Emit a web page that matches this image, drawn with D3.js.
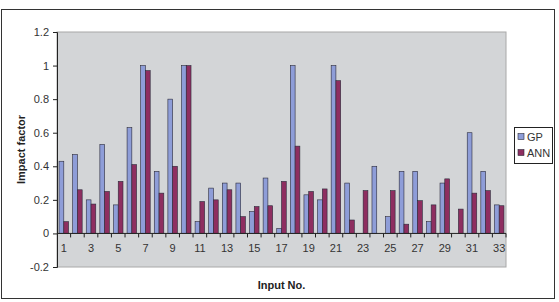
<!DOCTYPE html>
<html>
<head>
	<meta charset="utf-8">
	<title>Impact factor</title>
	<style>
		body { margin: 0; background: #fff; }
		svg { display: block; font-family: "Liberation Sans", Arial, sans-serif; }
		.axis text { font-size: 11px; fill: #333; }
		.title { font-size: 11px; font-weight: bold; fill: #222; }
	</style>
</head>
<body>
	<div id="chart"></div>
	<script src="https://cdn.jsdelivr.net/npm/d3@7"></script>
	<script>
		// input numbers 1..33
		var inputs = d3.range(1, 34);
		var seriesNames = ['GP', 'ANN'];
		var gp = [0.43, 0.47, 0.20, 0.53, 0.17, 0.63, 1.00, 0.37, 0.80, 1.00,
			0.07, 0.27, 0.30, 0.30, 0.13, 0.33, 0.03, 1.00, 0.23, 0.20,
			1.00, 0.30, 0, 0.40, 0.10, 0.37, 0.37, 0.07, 0.30, 0,
			0.60, 0.37, 0.17];
		var ann = [0.07, 0.26, 0.175, 0.25, 0.31, 0.41, 0.97, 0.24, 0.40, 1.00,
			0.19, 0.20, 0.26, 0.10, 0.16, 0.165, 0.31, 0.52, 0.25, 0.265,
			0.91, 0.08, 0.255, 0, 0.255, 0.055, 0.195, 0.17, 0.325, 0.145,
			0.24, 0.255, 0.165];
		var yTicks = [-0.2, 0, 0.2, 0.4, 0.6, 0.8, 1, 1.2];
		var xTickLabels = inputs.filter(function (d) { return d % 2 === 1; });

		var colors = { GP: '#8e9dd8', ANN: '#8e2e60' };
		var W = 559, H = 302;
		var plot = { left: 57, right: 506, top: 32, bottom: 267 };

		var svg = d3.select('#chart').append('svg')
			.attr('width', W).attr('height', H);

		// outer frame
		svg.append('rect')
			.attr('x', 1.5).attr('y', 9.5)
			.attr('width', 553).attr('height', 289)
			.attr('fill', '#fff').attr('stroke', '#333').attr('stroke-width', 1);

		var x = d3.scaleBand()
			.domain(inputs)
			.range([plot.left, plot.right])
			.paddingInner(0.3).paddingOuter(0.15);
		var xOuter = d3.scaleBand().domain(inputs).range([plot.left, plot.right]);
		var xs = d3.scaleBand().domain(seriesNames).range([0, x.bandwidth()]);

		var y = d3.scaleLinear().domain([-0.2, 1.2]).range([plot.bottom, plot.top]);

		// plot area
		svg.append('rect')
			.attr('x', plot.left).attr('y', plot.top)
			.attr('width', plot.right - plot.left).attr('height', plot.bottom - plot.top)
			.attr('fill', '#d3d5d7').attr('stroke', '#a8a8a8');

		var rows = inputs.map(function (d, i) { return { input: d, GP: gp[i], ANN: ann[i] }; });

		var groups = svg.append('g').selectAll('g')
			.data(rows).enter().append('g')
			.attr('transform', function (d) { return 'translate(' + x(d.input) + ',0)'; });

		groups.selectAll('rect')
			.data(function (d) { return seriesNames.map(function (k) { return { key: k, v: d[k] }; }); })
			.enter().filter(function (d) { return d.v > 0; })
			.append('rect')
			.attr('x', function (d) { return xs(d.key); })
			.attr('y', function (d) { return y(d.v); })
			.attr('width', xs.bandwidth())
			.attr('height', function (d) { return y(0) - y(d.v); })
			.attr('fill', function (d) { return colors[d.key]; })
			.attr('stroke', '#2a2a3a').attr('stroke-width', 0.6);

		// y axis
		var yAxis = svg.append('g').attr('class', 'axis')
			.attr('transform', 'translate(' + plot.left + ',0)')
			.call(d3.axisLeft(y).tickValues(yTicks).tickSize(4).tickPadding(4)
				.tickFormat(function (d) { return String(+d.toFixed(1)); }));
		yAxis.select('.domain').attr('stroke', '#222');
		yAxis.selectAll('.tick line').attr('stroke', '#222');

		// x axis at zero
		var xAxis = svg.append('g').attr('class', 'axis')
			.attr('transform', 'translate(0,' + y(0) + ')');
		xAxis.append('line')
			.attr('x1', plot.left).attr('x2', plot.right)
			.attr('stroke', '#222');
		xAxis.selectAll('.tk').data(inputs).enter().append('line')
			.attr('x1', function (d) { return xOuter(d) + xOuter.bandwidth(); })
			.attr('x2', function (d) { return xOuter(d) + xOuter.bandwidth(); })
			.attr('y1', 0).attr('y2', 4)
			.attr('stroke', '#222');
		xAxis.selectAll('text').data(xTickLabels).enter().append('text')
			.attr('x', function (d) { return xOuter(d) + xOuter.bandwidth() / 2; })
			.attr('y', 19)
			.attr('text-anchor', 'middle')
			.text(function (d) { return d; });

		// titles
		svg.append('text').attr('class', 'title')
			.attr('transform', 'translate(25,' + (plot.top + plot.bottom) / 2 + ') rotate(-90)')
			.attr('text-anchor', 'middle')
			.text('Impact factor');
		svg.append('text').attr('class', 'title')
			.attr('x', (plot.left + plot.right) / 2).attr('y', 289)
			.attr('text-anchor', 'middle')
			.text('Input No.');

		// legend
		var legend = svg.append('g').attr('transform', 'translate(514,127)');
		legend.append('rect')
			.attr('x', 0.5).attr('y', 0.5).attr('width', 38).attr('height', 36)
			.attr('fill', '#fff').attr('stroke', '#222');
		var li = legend.selectAll('g.item').data(seriesNames).enter().append('g')
			.attr('transform', function (d, i) { return 'translate(4,' + (10 + i * 16) + ')'; });
		li.append('rect')
			.attr('x', 0).attr('y', -3.5).attr('width', 6).attr('height', 6)
			.attr('fill', function (d) { return colors[d]; })
			.attr('stroke', '#2a2a3a').attr('stroke-width', 0.6);
		li.append('text')
			.attr('x', 9).attr('y', 4)
			.style('font-size', '11px').attr('fill', '#333')
			.text(function (d) { return d; });
	</script>
</body>
</html>
